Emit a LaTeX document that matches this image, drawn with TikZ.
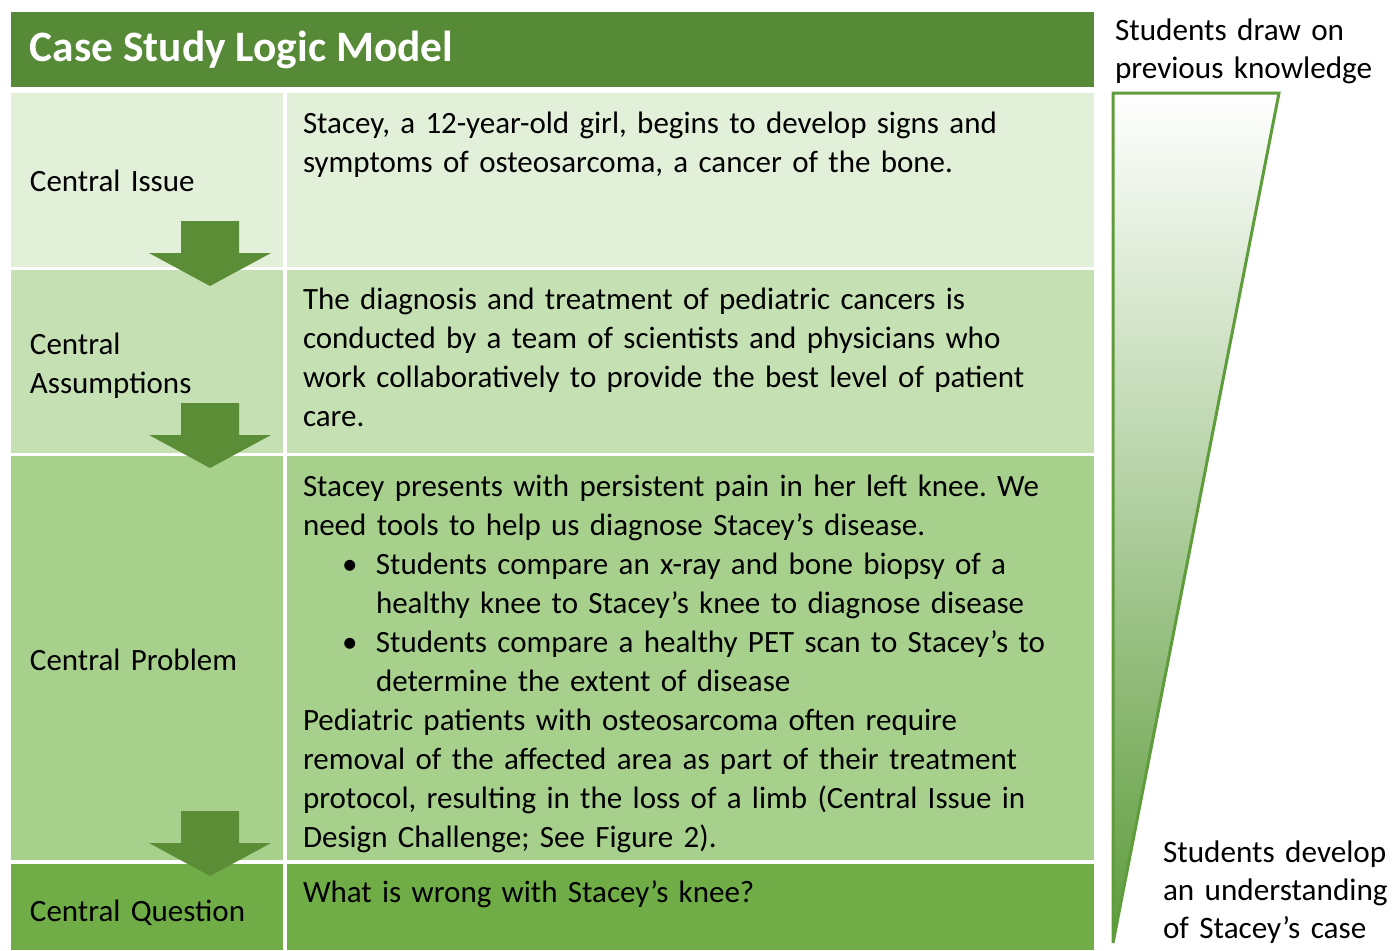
\documentclass[tikz,border=0pt]{standalone}
\usepackage{fontspec}
\setmainfont{Carlito}
\usepackage{xcolor}
\usetikzlibrary{positioning}
\frenchspacing

\definecolor{titlegreen}{HTML}{578A36}
\definecolor{rowissue}{HTML}{E2EFD9}
\definecolor{rowassume}{HTML}{C5E0B3}
\definecolor{rowproblem}{HTML}{A8D08D}
\definecolor{rowquestion}{HTML}{70AD47}
\definecolor{arrowgreen}{HTML}{5B8D36}
\definecolor{wedgegreen}{HTML}{5E9C3C}

% bullet lines inside the problem cell
\newcommand{\itembullet}{\hspace*{19.5pt}\makebox[17pt][l]{\textbullet}}
\newcommand{\itemcont}{\hspace*{36.5pt}}

\begin{document}
\begin{tikzpicture}[
    x=0.5pt, y=-0.5pt,
    every node/.style={inner sep=0pt, outer sep=0pt},
    rowlabel/.style={anchor=base west, font=\fontsize{15.5}{19.5}\selectfont, align=left, text width=130pt},
    celltext/.style={anchor=base west, font=\fontsize{15.5}{19.5}\selectfont, align=left, text width=395pt},
    sidetext/.style={anchor=base west, font=\fontsize{15.6}{19}\selectfont, align=left, text width=140pt},
    blockarrow/.pic={\fill[arrowgreen] (-29,0) -- (29,0) -- (29,32) -- (61,32) -- (0,65) -- (-61,32) -- (-29,32) -- cycle;}
  ]
  \useasboundingbox (0,0) rectangle (1394,950);

  % title bar
  \fill[titlegreen] (11,12) rectangle (1094,87);
  \node[anchor=base west, text=white, font=\bfseries\fontsize{21.7}{26}\selectfont] (title) at (30,61) {Case Study Logic Model};

  % table cells
  \fill[rowissue] (11,93) rectangle (283,267);
  \fill[rowissue] (287,93) rectangle (1094,267);
  \fill[rowassume] (11,270) rectangle (283,453);
  \fill[rowassume] (287,270) rectangle (1094,453);
  \fill[rowproblem] (11,456) rectangle (283,860);
  \fill[rowproblem] (287,456) rectangle (1094,860);
  \fill[rowquestion] (11,864) rectangle (283,950);
  \fill[rowquestion] (287,864) rectangle (1094,950);

  % left column
  \node[rowlabel] (issue) at (30,191) {Central Issue};
  \node[rowlabel] (assume) at (30,354) {Central\\Assumptions};
  \node[rowlabel] (problem) at (30,670) {Central Problem};
  \node[rowlabel] (question) at (30,921) {Central Question};

  % right column
  \node[celltext] (issuetxt) at (303,133) {Stacey, a 12-year-old girl, begins to develop signs and\\
    symptoms of osteosarcoma, a cancer of the bone.};
  \node[celltext] (assumetxt) at (303,309) {The diagnosis and treatment of pediatric cancers is\\
    conducted by a team of scientists and physicians who\\
    work collaboratively to provide the best level of patient\\
    care.};
  \node[celltext] (problemtxt) at (303,496) {Stacey presents with persistent pain in her left knee. We\\
    need tools to help us diagnose Stacey's disease.\\
    \itembullet Students compare an x-ray and bone biopsy of a\\
    \itemcont healthy knee to Stacey's knee to diagnose disease\\
    \itembullet Students compare a healthy PET scan to Stacey's to\\
    \itemcont determine the extent of disease\\
    Pediatric patients with osteosarcoma often require\\
    removal of the affected area as part of their treatment\\
    protocol, resulting in the loss of a limb (Central Issue in\\
    Design Challenge; See Figure 2).};
  \node[celltext] (questiontxt) at (303,902) {What is wrong with Stacey's knee?};

  % arrows between rows
  \pic at (210,221) {blockarrow};
  \pic at (210,403) {blockarrow};
  \pic at (210,811) {blockarrow};

  % knowledge wedge
  \shadedraw[top color=white, bottom color=wedgegreen, draw=wedgegreen, line width=1.5pt, line join=miter]
    (1113,93) -- (1279,93) -- (1113,943) -- cycle;
  \node[sidetext] (before) at (1115,40) {Students draw on\\previous knowledge};
  \node[sidetext] (after) at (1163,862) {Students develop\\an understanding\\of Stacey's case};
\end{tikzpicture}
\end{document}
